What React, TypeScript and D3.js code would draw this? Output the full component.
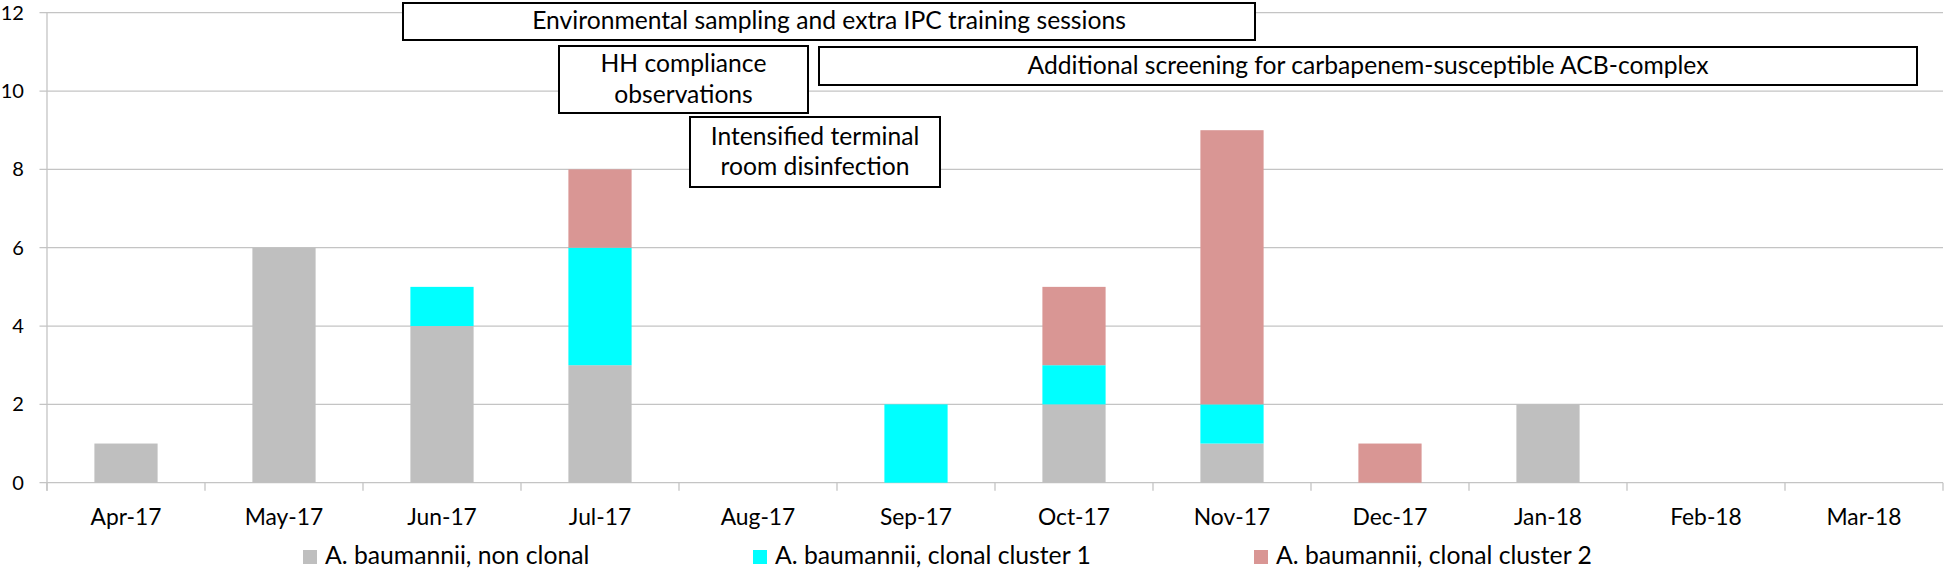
import React, { useLayoutEffect, useRef, useState } from "react";
import * as d3 from "d3";

const months = ["Apr-17", "May-17", "Jun-17", "Jul-17", "Aug-17", "Sep-17", "Oct-17", "Nov-17", "Dec-17", "Jan-18", "Feb-18", "Mar-18"];
const nonClonal = [1, 6, 4, 3, 0, 0, 2, 1, 0, 2, 0, 0];
const cluster1 = [0, 0, 1, 3, 0, 2, 1, 1, 0, 0, 0, 0];
const cluster2 = [0, 0, 0, 2, 0, 0, 2, 7, 1, 0, 0, 0];
const seriesNames = ["A. baumannii, non clonal", "A. baumannii, clonal cluster 1", "A. baumannii, clonal cluster 2"];
const seriesColors = ["#bfbfbf", "#00ffff", "#d99694"];
const yTicks = [0, 2, 4, 6, 8, 10, 12];

const annotations = [
  { lines: ["Environmental sampling and extra IPC training sessions"], x0: 403, x1: 1255, y0: 3, y1: 40 },
  { lines: ["HH compliance", "observations"], x0: 559, x1: 808, y0: 46, y1: 113 },
  { lines: ["Additional screening for carbapenem-susceptible ACB-complex"], x0: 819, x1: 1917, y0: 47, y1: 85 },
  { lines: ["Intensified terminal", "room disinfection"], x0: 690, x1: 940, y0: 117, y1: 187 },
];
const legendX = [303, 753, 1254];

const FONT = "Lato, 'Open Sans', sans-serif";

// reference text widths (px) used to size the font to match
const probes = [
  { key: "ann", text: "Environmental sampling and extra IPC training sessions", width: 594 },
  { key: "xl", text: "Apr-17", width: 71 },
  { key: "leg", text: "A. baumannii, clonal cluster 1", width: 316 },
  { key: "yl", text: "10", width: 23.3 },
];

export default function App() {
  const W = 1946, H = 571;
  const left = 47, right = 1943, top = 12.7, bottom = 482.7;
  const probeRefs = useRef<(SVGTextElement | null)[]>([]);
  const [fs, setFs] = useState<Record<string, number>>({ ann: 24, xl: 24, leg: 22, yl: 23 });

  useLayoutEffect(() => {
    const next: Record<string, number> = {};
    probes.forEach((p, i) => {
      const el = probeRefs.current[i];
      if (el) {
        const w = el.getComputedTextLength();
        next[p.key] = w > 0 ? (100 * p.width) / w : 24;
      }
    });
    setFs(next);
  }, []);

  const x = d3.scaleBand<string>().domain(months).range([left, right]).paddingInner(0.6).paddingOuter(0.3);
  const y = d3.scaleLinear().domain([0, 12]).range([bottom, top]);
  const rows = months.map((m, i) => ({ m, s0: nonClonal[i], s1: cluster1[i], s2: cluster2[i] }));
  const stack = d3.stack<any>().keys(["s0", "s1", "s2"]);
  const layers = stack(rows);
  const step = x.step();
  const boundaries = d3.range(months.length + 1).map((i) => left + i * step);

  return (
    <svg width={W} height={H} style={{ position: "absolute", left: 0, top: 0, background: "#fff" }} fontFamily={FONT}>
      <rect x={0} y={0} width={W} height={H} fill="#fff" />
      <g visibility="hidden">
        {probes.map((p, i) => (
          <text key={p.key} ref={(el) => { probeRefs.current[i] = el; }} x={0} y={-100} fontSize={100}>{p.text}</text>
        ))}
      </g>
      {yTicks.map((t) => (
        <line key={t} x1={39.5} x2={right} y1={y(t)} y2={y(t)} stroke="#c4c4c4" strokeWidth={1.3} />
      ))}
      <line x1={left} x2={left} y1={top} y2={bottom + 8} stroke="#c4c4c4" strokeWidth={1.3} />
      {boundaries.map((b, i) => (
        <line key={i} x1={b} x2={b} y1={bottom} y2={bottom + 8} stroke="#c4c4c4" strokeWidth={1.3} />
      ))}
      {layers.map((layer, li) =>
        layer.map((d, i) =>
          d[1] - d[0] > 0 ? (
            <rect key={li + "-" + i} x={x(months[i])} width={x.bandwidth()} y={y(d[1])} height={y(d[0]) - y(d[1])} fill={seriesColors[li]} />
          ) : null
        )
      )}
      {yTicks.map((t) => (
        <text key={t} x={24} y={y(t) + fs.yl * 0.34} textAnchor="end" fontSize={fs.yl} fill="#000">{t}</text>
      ))}
      {months.map((m) => (
        <text key={m} x={(x(m) as number) + x.bandwidth() / 2} y={525} textAnchor="middle" fontSize={fs.xl} fill="#000">{m}</text>
      ))}
      {seriesNames.map((n, i) => (
        <g key={n}>
          <rect x={legendX[i]} y={550} width={14} height={14} fill={seriesColors[i]} />
          <text x={legendX[i] + 22} y={564} fontSize={fs.leg} fill="#000">{n}</text>
        </g>
      ))}
      {annotations.map((a, i) => {
        const cx = (a.x0 + a.x1) / 2;
        const cy = (a.y0 + a.y1) / 2;
        const lh = 30.5;
        const n = a.lines.length;
        return (
          <g key={i}>
            <rect x={a.x0} y={a.y0} width={a.x1 - a.x0} height={a.y1 - a.y0} fill="#fff" stroke="#000" strokeWidth={2} />
            {a.lines.map((l, j) => (
              <text key={j} x={cx} y={cy + (j - (n - 1) / 2) * lh + fs.ann * 0.32} textAnchor="middle" fontSize={fs.ann} fill="#000">{l}</text>
            ))}
          </g>
        );
      })}
    </svg>
  );
}
